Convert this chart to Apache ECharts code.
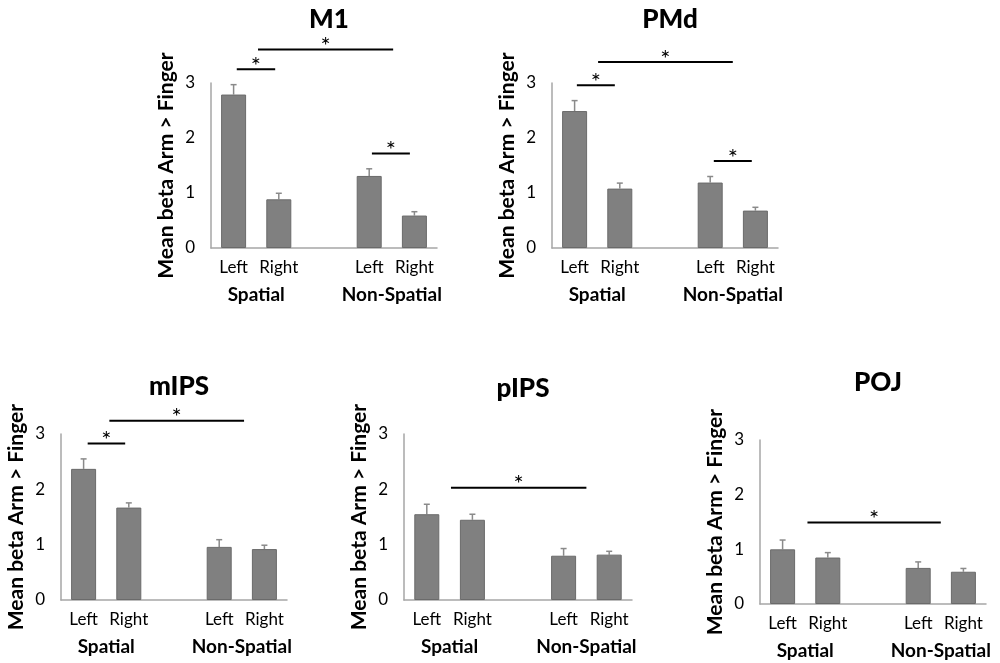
<!DOCTYPE html>
<html>
<head>
<meta charset="utf-8">
<script src="https://cdn.jsdelivr.net/npm/echarts@6/dist/echarts.min.js"></script>
<style>
html,body{margin:0;padding:0;background:#fff;}
#chart{width:1000px;height:663px;}
</style>
</head>
<body>
<div id="chart"></div>
<script>
// ---- data ----
const regions = ['M1', 'PMd', 'mIPS', 'pIPS', 'POJ'];
const categories = ['Left', 'Right', '', 'Left', 'Right'];
const groupLabels = ['Spatial', 'Non-Spatial'];
const groupPositions = [0.5, 3.5];
const yTicks = [0, 1, 2, 3];
const yName = 'Mean beta Arm > Finger';

const m1Means   = [2.79, 0.885, null, 1.31, 0.59];
const m1Err     = [0.18, 0.11, null, 0.13, 0.07];
const pmdMeans  = [2.49, 1.08, null, 1.19, 0.68];
const pmdErr    = [0.19, 0.10, null, 0.11, 0.06];
const mipsMeans = [2.37, 1.67, null, 0.96, 0.92];
const mipsErr   = [0.18, 0.085, null, 0.13, 0.07];
const pipsMeans = [1.55, 1.45, null, 0.80, 0.82];
const pipsErr   = [0.18, 0.10, null, 0.13, 0.06];
const pojMeans  = [1.00, 0.85, null, 0.66, 0.59];
const pojErr    = [0.17, 0.09, null, 0.11, 0.06];

// significance bars: [from, to, height] in category-slot units / data units
const m1Sig   = [[0.07, 0.92, 3.25], [0.54, 3.53, 3.61], [3.06, 3.90, 1.72]];
const pmdSig  = [[0.05, 0.89, 2.96], [0.52, 3.50, 3.38], [3.08, 3.92, 1.58]];
const mipsSig = [[0.09, 0.92, 2.83], [0.57, 3.55, 3.24]];
const pipsSig = [[0.53, 3.50, 2.03]];
const pojSig  = [[0.55, 3.50, 1.49]];

const allMeans = [m1Means, pmdMeans, mipsMeans, pipsMeans, pojMeans];
const allErr = [m1Err, pmdErr, mipsErr, pipsErr, pojErr];
const allSig = [m1Sig, pmdSig, mipsSig, pipsSig, pojSig];

// ---- layout ----
const grids = [
  {left: 211, top: 83, width: 226, height: 165},
  {left: 552, top: 83, width: 226, height: 165},
  {left: 61, top: 434, width: 226, height: 166},
  {left: 404, top: 434, width: 228, height: 166},
  {left: 760, top: 440, width: 226, height: 164}
];
const titleTops = [2, 2, 369, 371, 365];

const FONT = 'Lato, "Open Sans", sans-serif';
const chart = echarts.init(document.getElementById('chart'));

const option = {
  backgroundColor: '#fff',
  animation: false,
  title: [], grid: [], xAxis: [], yAxis: [], series: []
};

regions.forEach((name, i) => {
  const g = grids[i];
  option.grid.push({left: g.left, top: g.top, width: g.width, height: g.height, containLabel: false});
  option.title.push({
    text: name,
    left: g.left + g.width / 2,
    top: titleTops[i],
    textAlign: 'center',
    textStyle: {fontFamily: FONT, fontWeight: 900, fontSize: 26, color: '#000'}
  });
  option.xAxis.push({
    type: 'category', gridIndex: i, data: categories, position: 'bottom',
    axisLine: {onZero: false, lineStyle: {color: '#a6a6a6', width: 1.5}},
    axisTick: {show: false},
    axisLabel: {color: '#000', fontFamily: FONT, fontSize: 17, margin: 11, interval: 0}
  });
  option.xAxis.push({
    type: 'value', gridIndex: i, min: -0.5, max: 4.5, interval: 0.5, position: 'bottom',
    axisLine: {show: false, onZero: false}, axisTick: {show: false}, splitLine: {show: false},
    axisLabel: {
      color: '#000', fontFamily: FONT, fontSize: 19, fontWeight: 'bold', margin: 37,
      showMinLabel: true, showMaxLabel: true,
      formatter: v => {
        const k = groupPositions.findIndex(p => Math.abs(p - v) < 1e-6);
        return k >= 0 ? groupLabels[k] : '';
      }
    }
  });
  option.yAxis.push({
    type: 'value', gridIndex: i, min: yTicks[0], max: yTicks[yTicks.length - 1], interval: 1,
    name: yName, nameLocation: 'middle', nameGap: 34, nameRotate: 90,
    nameTextStyle: {fontFamily: FONT, fontWeight: 'bold', fontSize: 21, color: '#000'},
    axisLine: {show: true, onZero: false, lineStyle: {color: '#a6a6a6', width: 1.5}},
    axisTick: {show: false}, splitLine: {show: false},
    axisLabel: {color: '#000', fontFamily: FONT, fontSize: 17, margin: 16}
  });
  option.series.push({
    type: 'bar', xAxisIndex: 2 * i, yAxisIndex: i,
    data: allMeans[i], barWidth: 25,
    itemStyle: {color: '#808080', borderColor: '#6a6a6a', borderWidth: 1}
  });
  option.series.push({
    type: 'custom', xAxisIndex: 2 * i, yAxisIndex: i,
    data: allMeans[i].map((m, k) => m == null ? null : [k, m, allErr[i][k]]).filter(d => d),
    renderItem: (params, api) => {
      const base = api.coord([api.value(0), api.value(1)]);
      const top = api.coord([api.value(0), api.value(1) + api.value(2)]);
      const st = {stroke: '#8a8a8a', lineWidth: 1.5};
      return {type: 'group', children: [
        {type: 'line', shape: {x1: base[0], y1: base[1], x2: top[0], y2: top[1]}, style: st},
        {type: 'line', shape: {x1: top[0] - 3, y1: top[1], x2: top[0] + 3, y2: top[1]}, style: st}
      ]};
    }
  });
  option.series.push({
    type: 'custom', xAxisIndex: 2 * i + 1, yAxisIndex: i, clip: false,
    data: allSig[i],
    renderItem: (params, api) => {
      const a = api.coord([api.value(0), api.value(2)]);
      const b = api.coord([api.value(1), api.value(2)]);
      return {type: 'group', children: [
        {type: 'line', shape: {x1: a[0], y1: a[1], x2: b[0], y2: b[1]}, style: {stroke: '#000', lineWidth: 2}},
        {type: 'text', style: {text: '*', x: (a[0] + b[0]) / 2, y: a[1] - 3, textAlign: 'center', textVerticalAlign: 'middle',
          font: '24px ' + FONT, fill: '#000'}}
      ]};
    }
  });
});

chart.setOption(option);
</script>
</body>
</html>
